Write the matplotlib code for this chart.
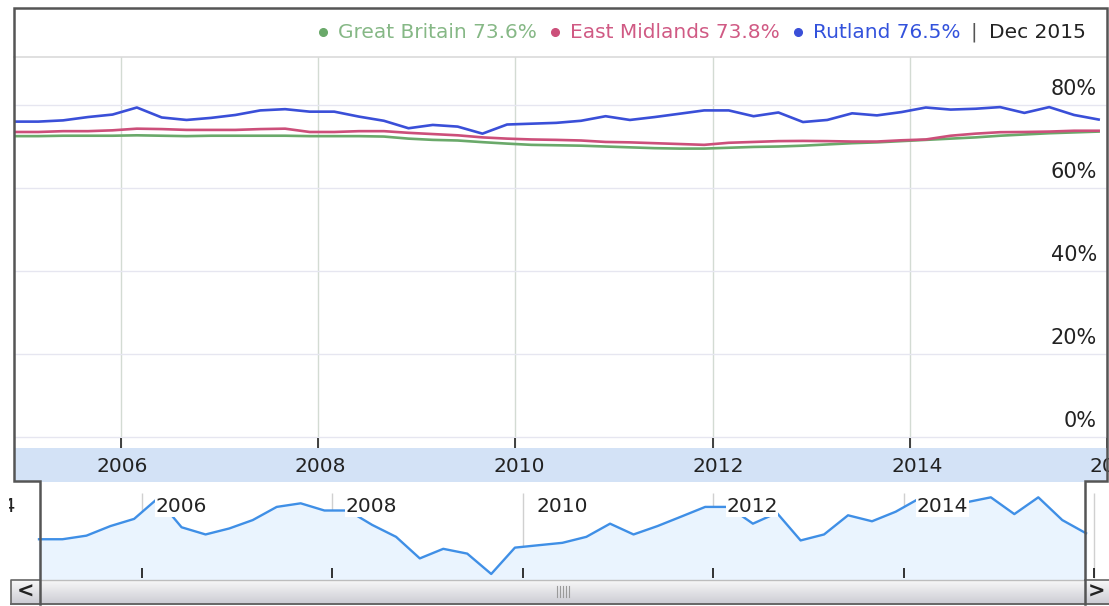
import numpy as np
import pandas as pd
import matplotlib
matplotlib.use("Agg")
import matplotlib.pyplot as plt
import matplotlib.dates as mdates
import matplotlib.transforms as mtransforms
from matplotlib.lines import Line2D

plt.rcParams['font.family'] = ['DejaVu Sans']

# ---------------- data ----------------
dates = pd.date_range("2004-12-01", "2015-12-01", freq="3MS")

great_britain = [72.5, 72.5, 72.6, 72.6, 72.6, 72.7, 72.6, 72.5, 72.6, 72.6,
                 72.6, 72.6, 72.5, 72.5, 72.5, 72.4, 71.9, 71.6, 71.45, 71.05,
                 70.7, 70.4, 70.3, 70.2, 70.0, 69.8, 69.6, 69.5, 69.5, 69.7,
                 69.9, 70.0, 70.2, 70.5, 70.8, 71.0, 71.3, 71.6, 71.9, 72.2,
                 72.6, 72.9, 73.2, 73.4, 73.6]
east_midlands = [73.5, 73.5, 73.7, 73.7, 73.9, 74.3, 74.2, 74.0, 74.0, 74.0,
                 74.2, 74.3, 73.5, 73.5, 73.7, 73.7, 73.3, 73.0, 72.7, 72.2,
                 71.9, 71.7, 71.6, 71.45, 71.1, 71.0, 70.8, 70.6, 70.4, 70.9,
                 71.1, 71.3, 71.35, 71.3, 71.2, 71.2, 71.5, 71.7, 72.6, 73.1,
                 73.45, 73.5, 73.6, 73.8, 73.8]
rutland = [76.0, 76.0, 76.3, 77.1, 77.7, 79.4, 77.0, 76.4, 76.9, 77.6,
           78.7, 79.0, 78.4, 78.4, 77.2, 76.2, 74.4, 75.2, 74.8, 73.1,
           75.3, 75.5, 75.7, 76.2, 77.3, 76.4, 77.1, 77.9, 78.7, 78.7,
           77.3, 78.2, 75.9, 76.4, 78.0, 77.5, 78.3, 79.4, 78.9, 79.1,
           79.5, 78.1, 79.5, 77.6, 76.5]

series_names = ["Great Britain", "East Midlands", "Rutland"]
latest_values = ["73.6%", "73.8%", "76.5%"]
latest_label = "Dec 2015"
y_ticks = [0, 20, 40, 60, 80]
main_years = [2006, 2008, 2010, 2012, 2014, 2016]
nav_years = [2004, 2006, 2008, 2010, 2012, 2014, 2016]

line_colors = ["#6aa96a", "#cc4f7a", "#3a4fd8"]
text_colors = ["#86b886", "#d05a84", "#3352dc"]

# ---------------- figure ----------------
W, H = 1109, 606
fig = plt.figure(figsize=(W / 100, H / 100), dpi=100)
fig.patch.set_facecolor("white")
FS = 14.5


def axpx(x0, y0, x1, y1):
    a = fig.add_axes([x0 / W, 1 - y1 / H, (x1 - x0) / W, (y1 - y0) / H])
    for s in a.spines.values():
        s.set_visible(False)
    a.set_xticks([])
    a.set_yticks([])
    return a


def line_px(xs, ys, **kw):
    fig.add_artist(Line2D([x / W for x in xs], [1 - y / H for y in ys],
                          transform=fig.transFigure, **kw))


# ---------------- main plot ----------------
ax = axpx(14, 57, 1107, 448)
ax.set_xlim(dates[0], dates[-1])
ylo, yhi = -2.65, 91.57
ax.set_ylim(ylo, yhi)
year_ts = pd.to_datetime([f"{y}-01-01" for y in main_years])
ax.set_xticks(year_ts)
ax.set_yticks(y_ticks)
ax.tick_params(length=0, labelbottom=False, labelleft=False)
ax.grid(axis="x", color="#d3dbd3", lw=1)
ax.grid(axis="y", color="#e6e6f0", lw=1)
ax.set_axisbelow(True)

for vals, c in zip([great_britain, east_midlands, rutland], line_colors):
    ax.plot(dates, vals, color=c, lw=1.9, solid_joinstyle="round", zorder=3)

ax.vlines(year_ts, ylo, -0.3, color="#333333", lw=1.3, zorder=4)

ytrans = mtransforms.blended_transform_factory(ax.transAxes, ax.transData)
for v in y_ticks:
    ax.text(1 - 10 / 1093, v + 3.9, f"{v}%", transform=ytrans, ha="right",
            va="center", fontsize=15, color="#222222")

# ---------------- axis band ----------------
bax = axpx(14, 448, 1107, 482)
bax.set_facecolor("#d3e2f6")
bax.set_xlim(dates[0], dates[-1])
btrans = mtransforms.blended_transform_factory(bax.transData, bax.transAxes)
for y, t in zip(main_years, year_ts):
    bax.text(t, 0.47, str(y), transform=btrans, ha="center", va="center",
             fontsize=FS, color="#222222", clip_on=False)

# ---------------- navigator ----------------
nx0 = 9
nax = axpx(nx0, 482, 1109, 579)
nax.set_facecolor("white")
d0 = mdates.date2num(dates[0])
d1 = mdates.date2num(dates[-1])
span = d1 - d0
nax.set_xlim(d0 - (39 - nx0) / 1047 * span, d1 + 23 / 1047 * span)
nlo, nhi = 72.68, 80.78
nax.set_ylim(nlo, nhi)
ntrans = mtransforms.blended_transform_factory(nax.transData, nax.transAxes)
nav_ts = [mdates.date2num(pd.Timestamp(f"{y}-01-01")) for y in nav_years]
nax.vlines(nav_ts, 1 / 97, 86 / 97, transform=ntrans, color="#d0d0d0", lw=1, zorder=1)
nax.fill_between(mdates.date2num(dates), rutland, nlo, color="#eaf4fe", zorder=2)
nax.plot(mdates.date2num(dates), rutland, color="#3f8fe6", lw=1.7, zorder=3)
nax.vlines(nav_ts, 1 / 97, 11 / 97, transform=ntrans, color="#222222", lw=1.3, zorder=4)
lab_trans = mtransforms.offset_copy(ntrans, fig=fig, x=13, y=0, units="dots")
for y, t in zip(nav_years, nav_ts):
    nax.text(t, 0.745, str(y), transform=lab_trans, ha="left", va="center",
             fontsize=FS, color="#222222", zorder=5, clip_on=True,
             bbox=dict(facecolor="white", edgecolor="none", pad=0.5))

# ---------------- scrollbar ----------------
grad = np.linspace(0, 1, 24)[:, None]
top_c = np.array([0.97, 0.97, 0.97])
bot_c = np.array([0.80, 0.80, 0.83])
img = (top_c * (1 - grad[..., None]) + bot_c * grad[..., None])
for (x0, x1) in [(40, 1085), (11, 40), (1085, 1109)]:
    sax = axpx(x0, 580, x1, 604)
    sax.imshow(img, aspect="auto", extent=[0, 1, 0, 1])
    sax.set_xlim(0, 1)
    sax.set_ylim(0, 1)
fig.text(25.5 / W, 1 - 592 / H, "<", ha="center", va="center", fontsize=15,
         fontweight="bold", color="#222222")
fig.text(1097 / W, 1 - 592 / H, ">", ha="center", va="center", fontsize=15,
         fontweight="bold", color="#222222")
for gx in [557, 560, 563, 566, 569]:
    line_px([gx, gx], [586, 597], color="#9a9a9a", lw=0.8)

# ---------------- frames ----------------
line_px([14, 1107], [57, 57], color="#dadada", lw=1.2)
line_px([40, 1085], [580, 580], color="#bdbdbd", lw=1)
line_px([11, 11, 40], [604, 580, 580], color="#666666", lw=1.2)
line_px([1085, 1109], [580, 580], color="#666666", lw=1.2)
line_px([11, 1109], [604, 604], color="#666666", lw=1.4)
line_px([40, 40, 14, 14, 1107, 1107, 1085, 1085],
        [604, 481, 481, 8, 8, 481, 481, 604], color="#555555", lw=1.8,
        solid_joinstyle="miter")

# ---------------- legend ----------------
renderer = fig.canvas.get_renderer()
ly = 1 - 32 / H
x = 1086
t = fig.text(x / W, ly, latest_label, ha="right", va="center", fontsize=FS, color="#222222")
x -= t.get_window_extent(renderer).width + 12
t = fig.text(x / W, ly, "|", ha="right", va="center", fontsize=FS, color="#555555")
x -= t.get_window_extent(renderer).width + 10
for name, val, tc, lc in reversed(list(zip(series_names, latest_values, text_colors, line_colors))):
    t = fig.text(x / W, ly, f"{name} {val}", ha="right", va="center", fontsize=FS, color=tc)
    x -= t.get_window_extent(renderer).width + 15
    fig.add_artist(Line2D([x / W], [ly], marker="o", ms=5.5, color=lc, mec=lc,
                          transform=fig.transFigure))
    x -= 18

fig.savefig("out.png", dpi=100, facecolor="white")
